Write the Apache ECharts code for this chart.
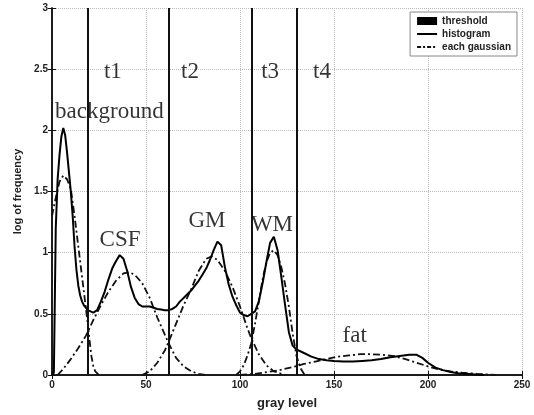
<!DOCTYPE html>
<html><head><meta charset="utf-8">
<script src="https://cdn.jsdelivr.net/npm/echarts@6/dist/echarts.min.js"></script>
<style>html,body{margin:0;padding:0;background:#fff}#c{width:534px;height:415px}</style>
</head><body><div id="c"></div>
<script>
var thresholds = [19, 62, 106, 130];
var histogram = [[0,0],[1,0.02],[2,1.2],[3,1.6],[4,1.8],[5,1.95],[6,2.02],[7,1.96],[8,1.82],[9,1.66],[10,1.5],[11,1.3],[12,1.05],[13,0.86],[14,0.73],[15,0.65],[16,0.6],[17,0.57],[18,0.55],[19,0.53],[20,0.52],[22,0.51],[24,0.53],[26,0.6],[28,0.68],[30,0.78],[32,0.87],[34,0.93],[36,0.98],[37,0.98],[38,0.95],[40,0.85],[42,0.72],[44,0.63],[46,0.58],[48,0.56],[50,0.56],[52,0.56],[54,0.55],[56,0.54],[58,0.535],[60,0.53],[62,0.53],[64,0.54],[66,0.56],[68,0.6],[70,0.63],[72,0.66],[74,0.69],[76,0.73],[78,0.77],[80,0.82],[82,0.87],[84,0.94],[86,1.02],[88,1.09],[89,1.1],[90,1.06],[92,0.88],[94,0.74],[96,0.64],[98,0.57],[100,0.51],[102,0.49],[104,0.48],[106,0.5],[108,0.52],[110,0.6],[112,0.75],[114,0.92],[116,1.08],[118,1.13],[120,1.02],[122,0.8],[124,0.57],[126,0.35],[128,0.24],[130,0.21],[134,0.18],[138,0.15],[142,0.13],[146,0.12],[150,0.115],[155,0.11],[160,0.11],[165,0.115],[170,0.12],[175,0.13],[180,0.145],[185,0.155],[190,0.165],[194,0.165],[197,0.14],[200,0.1],[204,0.06],[208,0.04],[212,0.025],[216,0.015],[220,0.01],[225,0.005],[230,0]];
var gaussBackground = [[0,1.3],[2,1.45],[4,1.58],[6,1.63],[8,1.6],[10,1.52],[12,1.3],[14,1.05],[16,0.8],[18,0.55],[19,0.42],[20,0.28],[21,0.15],[22,0.07],[23,0.03],[25,0]];
var gaussCSF = [[3,0],[6,0.05],[10,0.13],[14,0.22],[18,0.32],[22,0.45],[26,0.57],[30,0.68],[34,0.77],[38,0.83],[41,0.84],[44,0.82],[48,0.75],[52,0.63],[56,0.47],[60,0.33],[62,0.26],[66,0.14],[70,0.07],[74,0.03],[78,0.01],[82,0]];
var gaussGM = [[48,0],[52,0.03],[56,0.1],[60,0.2],[62,0.27],[66,0.42],[70,0.57],[74,0.7],[78,0.85],[82,0.95],[85,0.97],[88,0.94],[92,0.85],[96,0.72],[100,0.56],[104,0.38],[106,0.3],[110,0.17],[114,0.08],[118,0.03],[124,0]];
var gaussWM = [[98,0],[100,0.03],[102,0.08],[104,0.16],[106,0.26],[108,0.42],[110,0.6],[112,0.78],[114,0.92],[116,1.0],[118,1.02],[120,0.98],[122,0.88],[124,0.74],[126,0.56],[128,0.34],[130,0.16],[132,0.06],[134,0.01],[136,0]];
var gaussFat = [[100,0],[108,0.01],[115,0.025],[121,0.04],[128,0.065],[134,0.09],[140,0.11],[146,0.13],[152,0.15],[158,0.16],[164,0.17],[170,0.17],[176,0.165],[182,0.155],[188,0.13],[194,0.1],[200,0.07],[206,0.045],[212,0.03],[218,0.02],[226,0.01],[236,0]];
var annotations = [[32.4,2.48,'t1'],[73.4,2.48,'t2'],[116,2.48,'t3'],[143.6,2.48,'t4'],[30.5,2.15,'background'],[36.2,1.1,'CSF'],[82.4,1.26,'GM'],[117,1.23,'WM'],[161,0.32,'fat']];
var xTicks = {min:0, max:250, interval:50};
var yTicks = {min:0, max:3, interval:0.5};

var chart = echarts.init(document.getElementById('c'));
var gStyle = {color:'#111', width:1.8, type:[7,3,2,3]};
function gauss(d){ return {name:'each gaussian', type:'line', data:d, showSymbol:false, symbol:'none', lineStyle:gStyle, itemStyle:{color:'#111'}, z:3, animation:false}; }
var axLab = {fontFamily:'Liberation Sans, Arial', fontWeight:'bold', fontSize:10, color:'#222'};
chart.setOption({
  animation:false,
  grid:{left:52, right:12, top:8, bottom:38},
  legend:{
    orient:'vertical', right:17, top:12, padding:[4,6,4,6], itemGap:3,
    itemWidth:20, itemHeight:8, backgroundColor:'#fff', borderColor:'#888', borderWidth:1,
    textStyle:{fontFamily:'Liberation Sans, Arial', fontWeight:'bold', fontSize:10, color:'#222'},
    data:[{name:'threshold', icon:'rect', itemStyle:{color:'#000'}},
          {name:'histogram', itemStyle:{opacity:0}, lineStyle:{color:'#000', width:2}},
          {name:'each gaussian', itemStyle:{opacity:0}, lineStyle:{color:'#111', width:1.8, type:[4,2,2,2]}}]
  },
  xAxis:[{type:'value', min:xTicks.min, max:xTicks.max, interval:xTicks.interval,
    name:'gray level', nameLocation:'middle', nameGap:22,
    nameTextStyle:{fontFamily:'Liberation Sans, Arial', fontWeight:'bold', fontSize:13, color:'#222'},
    axisLine:{lineStyle:{color:'#111', width:1.5}}, axisTick:{inside:true, length:4, lineStyle:{color:'#111'}},
    axisLabel:Object.assign({margin:5}, axLab),
    splitLine:{show:true, lineStyle:{color:'#bbb', type:'dotted'}}},
   {type:'value', position:'top', min:xTicks.min, max:xTicks.max, interval:xTicks.interval,
    axisLine:{show:true, lineStyle:{color:'#111', width:1.5}}, axisTick:{inside:true, length:4, lineStyle:{color:'#111'}},
    axisLabel:{show:false}, splitLine:{show:false}}],
  yAxis:[{type:'value', min:yTicks.min, max:yTicks.max, interval:yTicks.interval,
    name:'log of frequency', nameLocation:'middle', nameGap:26,
    nameTextStyle:{fontFamily:'Liberation Sans, Arial', fontWeight:'bold', fontSize:11, color:'#222'},
    axisLine:{show:true, lineStyle:{color:'#111', width:1.5}}, axisTick:{show:true, inside:true, length:4, lineStyle:{color:'#111'}},
    axisLabel:Object.assign({margin:4}, axLab),
    splitLine:{show:true, lineStyle:{color:'#bbb', type:'dotted'}}},
   {type:'value', position:'right', min:yTicks.min, max:yTicks.max, interval:yTicks.interval,
    axisLine:{show:true, lineStyle:{color:'#111', width:1.5}}, axisTick:{show:true, inside:true, length:4, lineStyle:{color:'#111'}},
    axisLabel:{show:false}, splitLine:{show:false}}],
  series:[
    {name:'threshold', type:'line', data:[], itemStyle:{color:'#000'}, markLine:{symbol:'none', silent:true, label:{show:false},
      lineStyle:{color:'#111', width:2, type:'solid'}, data:thresholds.map(function(t){return {xAxis:t};})}},
    {name:'histogram', type:'line', data:histogram, showSymbol:false, symbol:'none', lineStyle:{color:'#000', width:2}, itemStyle:{color:'#000'}, z:4},
    gauss(gaussBackground), gauss(gaussCSF), gauss(gaussGM), gauss(gaussWM), gauss(gaussFat),
    {name:'labels', type:'scatter', symbolSize:0, silent:true,
      data:annotations.map(function(a){return {value:[a[0],a[1]], name:a[2]};}),
      label:{show:true, position:'inside', formatter:function(p){return p.name;}, fontFamily:'Liberation Serif, Times New Roman', fontSize:23, color:'#000'}}
  ]
});
</script></body></html>
